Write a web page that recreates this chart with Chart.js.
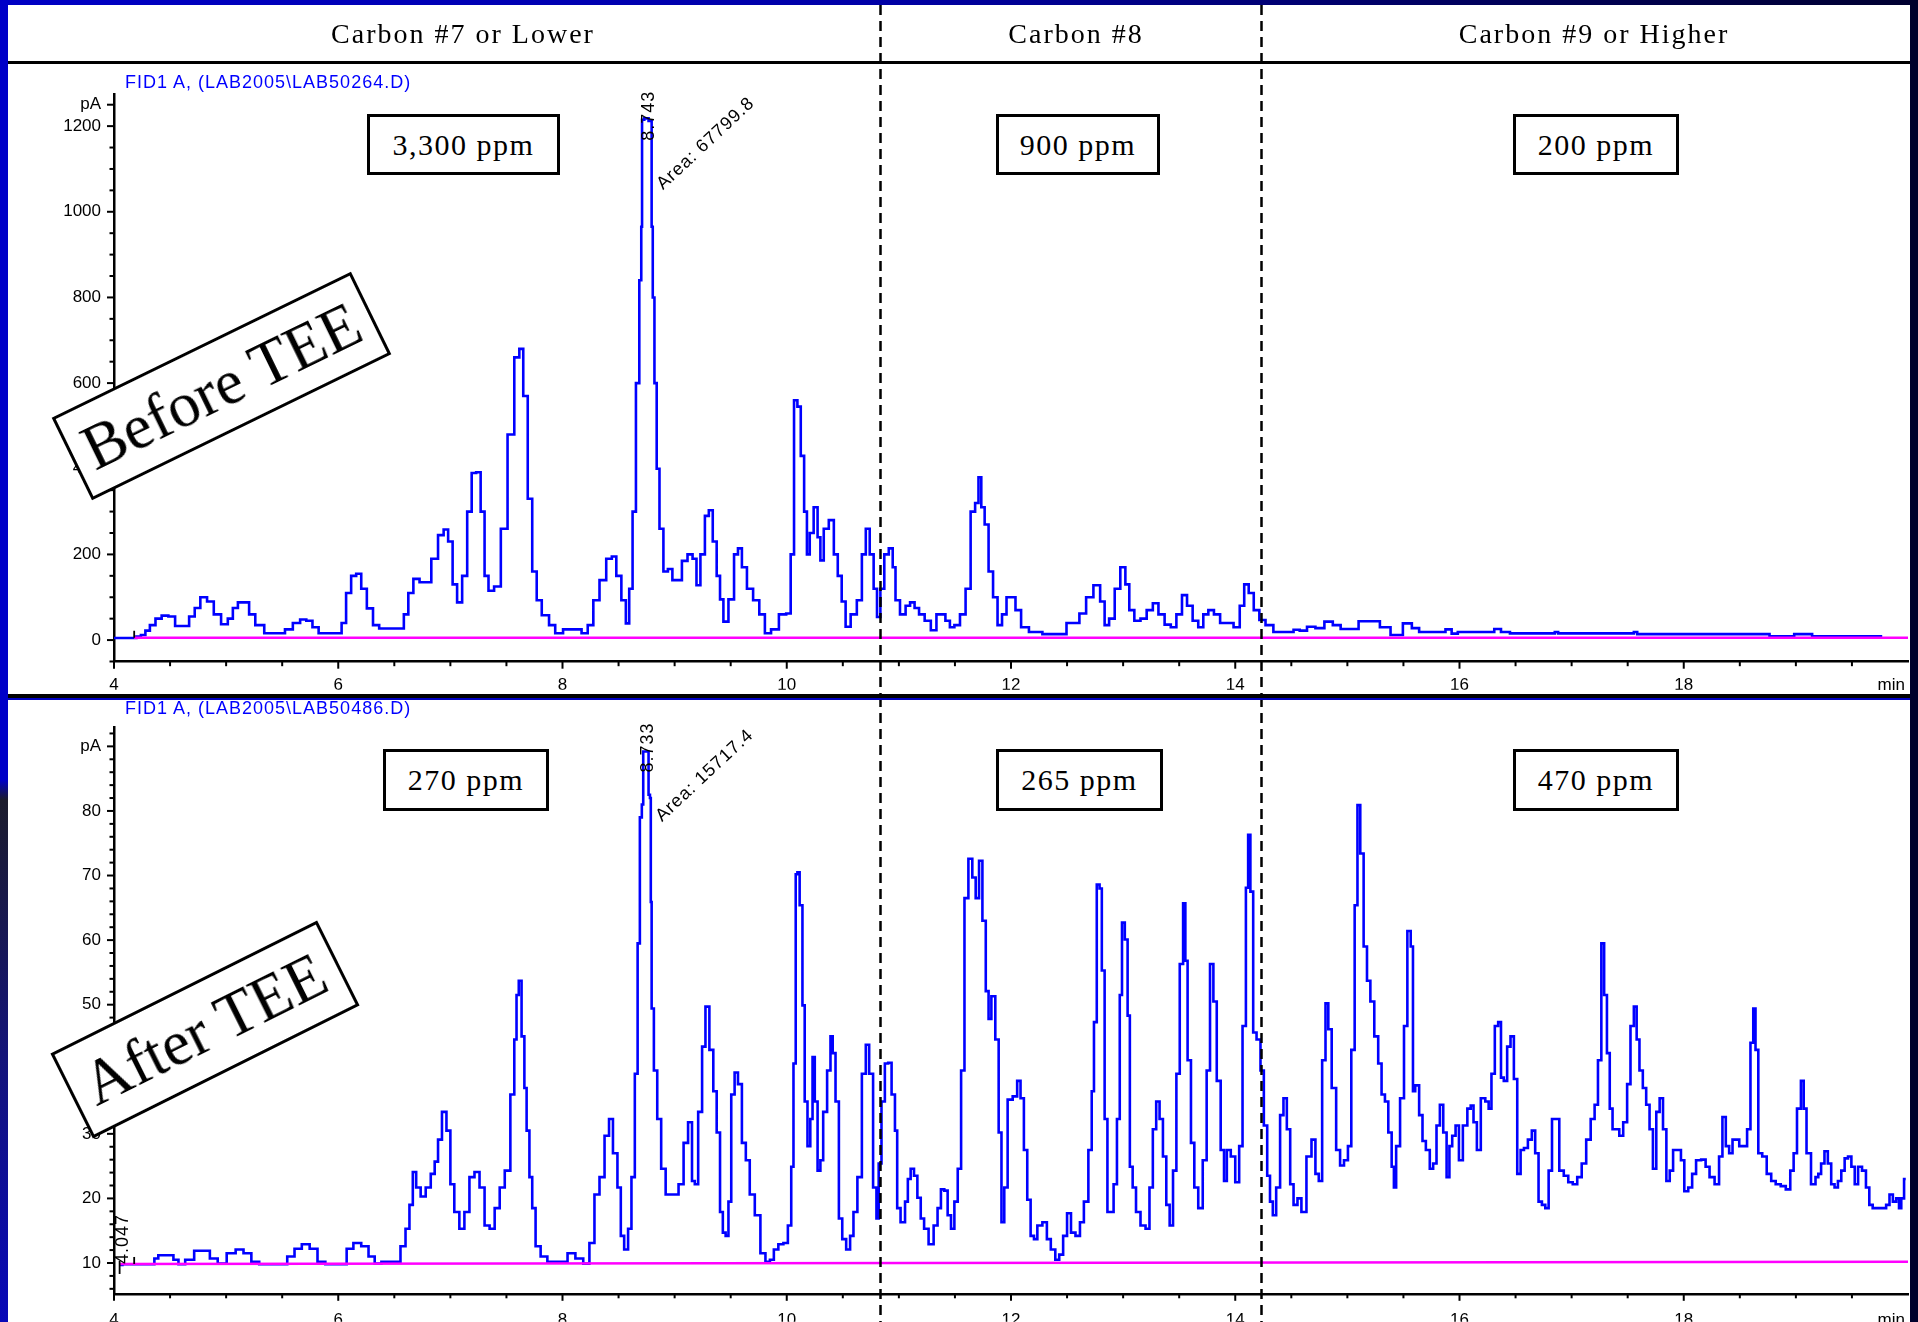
<!DOCTYPE html>
<html>
<head>
<meta charset="utf-8">
<script src="https://cdn.jsdelivr.net/npm/chart.js@4.4.1/dist/chart.umd.min.js"></script>
<style>
html,body{margin:0;padding:0;overflow:hidden;width:1918px;height:1322px;}
body{position:relative;background:#0000c0;}
#panel{position:absolute;left:8px;top:5px;width:1902px;height:1317px;background:#fff;}
canvas{position:absolute;left:0;}
#c1{top:0;}
#c2{top:697px;}
.ov{position:absolute;z-index:5;}
.hdr{position:absolute;z-index:5;top:19.5px;line-height:28px;font-family:'Liberation Serif',serif;font-size:28px;letter-spacing:2px;color:#000;white-space:nowrap;transform:translateX(-50%);}
.fid{position:absolute;z-index:6;left:125px;line-height:18px;font-family:'Liberation Sans',sans-serif;font-size:18px;letter-spacing:1px;color:#0000ff;white-space:nowrap;}
.box{position:absolute;z-index:6;box-sizing:border-box;border:3px solid #000;background:#fff;display:flex;align-items:center;justify-content:center;font-family:'Liberation Serif',serif;font-size:30px;letter-spacing:1.5px;color:#000;white-space:nowrap;}
.rbox{position:absolute;z-index:7;box-sizing:border-box;border:3px solid #000;background:#fff;display:flex;align-items:center;justify-content:center;font-family:'Liberation Serif',serif;font-size:63px;color:#000;white-space:nowrap;}
.strip{position:absolute;z-index:10;}
</style>
</head>
<body>
<div id="panel"></div>
<canvas id="c1" width="1940" height="697"></canvas>
<canvas id="c2" width="1940" height="625"></canvas>
<div id="overlay"></div>
<div class="strip" style="left:0;top:0;width:1918px;height:5px;background:linear-gradient(to right,#0000c4 0%,#0000a8 45%,#000060 75%,#000030 100%);"></div>
<div class="strip" style="left:0;top:0;width:8px;height:1322px;background:linear-gradient(to bottom,#0000c8 0%,#0000c8 59%,#1c1c2c 60.5%,#14147a 80%,#0808b8 100%);"></div>
<div class="strip" style="left:1910px;top:0;width:8px;height:1322px;background:#00002c;"></div>
<script>
// ---------- labels ----------
const headerLabels = ['Carbon #7 or Lower', 'Carbon #8', 'Carbon #9 or Higher'];
const fidLabels = ['FID1 A, (LAB2005\\LAB50264.D)', 'FID1 A, (LAB2005\\LAB50486.D)'];
const topBoxLabels = ['3,300 ppm', '900 ppm', '200 ppm'];
const bottomBoxLabels = ['270 ppm', '265 ppm', '470 ppm'];
const stateLabels = ['Before TEE', 'After TEE'];
const carbonCuts = [10.83, 14.23];

// ---------- axis ticks ----------
const xTickLabels = [4, 6, 8, 10, 12, 14, 16, 18];
const xUnit = 'min';
const topYTickLabels = [0, 200, 400, 600, 800, 1000, 1200];
const bottomYTickLabels = [10, 20, 30, 40, 50, 60, 70, 80];
const yUnit = 'pA';

// ---------- top chromatogram (before TEE) ----------
const topTimes = [
 4.00,4.18,4.22,4.26,4.30,4.34,4.40,4.45,4.52,4.57,
 4.64,4.70,4.74,4.80,4.86,4.92,4.99,5.04,5.08,5.13,
 5.19,5.22,5.30,5.38,5.49,5.56,5.63,5.69,5.74,5.80,
 5.85,6.01,6.05,6.09,6.14,6.18,6.23,6.28,6.34,6.39,
 6.56,6.61,6.64,6.70,6.75,6.80,6.86,6.92,6.96,7.00,
 7.04,7.08,7.13,7.17,7.21,7.25,7.29,7.32,7.36,7.42,
 7.48,7.54,7.60,7.63,7.67,7.71,7.75,7.79,7.84,7.92,
 7.95,8.06,8.14,8.20,8.25,8.30,8.36,8.42,8.46,8.50,
 8.55,8.58,8.61,8.64,8.67,8.70,8.705,8.714,8.745,8.79,
 8.80,8.81,8.83,8.85,8.88,8.92,8.96,9.00,9.04,9.09,
 9.14,9.18,9.21,9.25,9.29,9.32,9.36,9.39,9.42,9.45,
 9.51,9.55,9.58,9.62,9.67,9.73,9.78,9.83,9.89,9.97,
 10.02,10.05,10.08,10.11,10.14,10.17,10.19,10.22,10.26,10.29,
 10.31,10.35,10.40,10.44,10.47,10.51,10.54,10.60,10.65,10.69,
 10.72,10.76,10.79,10.82,10.85,10.89,10.93,10.96,10.98,11.04,
 11.08,11.12,11.16,11.20,11.26,11.31,11.36,11.39,11.44,11.47,
 11.52,11.57,11.62,11.66,11.70,11.72,11.75,11.78,11.82,11.86,
 11.90,11.94,11.98,12.02,12.06,12.12,12.20,12.36,12.47,12.52,
 12.58,12.64,12.70,12.77,12.82,12.85,12.90,12.95,13.00,13.04,
 13.07,13.13,13.18,13.24,13.29,13.34,13.40,13.45,13.50,13.55,
 13.59,13.65,13.69,13.74,13.78,13.84,13.89,13.95,14.02,14.06,
 14.10,14.14,14.19,14.24,14.30,14.38,14.49,14.55,14.60,14.68,
 14.75,14.84,14.90,14.98,15.09,15.11,15.25,15.33,15.44,15.55,
 15.60,15.68,15.85,15.90,15.96,16.01,16.28,16.34,16.40,16.50,
 16.84,16.86,16.90,17.54,17.57,17.60,18.74,18.79,18.96,19.01,
 19.12,19.17,19.77
];
const topValues = [
 5,5,8,12,22,35,50,57,55,33,
 33,55,75,100,90,60,37,50,75,88,
 88,60,35,16,16,25,40,48,45,30,
 16,16,40,110,150,155,120,74,35,27,
 27,60,110,143,135,135,190,245,258,230,
 130,88,150,300,390,392,300,150,115,125,
 260,480,660,680,570,330,160,93,58,35,
 16,25,25,16,35,93,140,190,195,150,
 93,39,120,300,600,840,965,1215,1218,1212,
 965,800,600,400,260,160,166,140,140,185,
 200,190,128,200,290,303,230,150,95,43,
 95,200,214,170,120,93,60,16,25,60,
 62,200,560,545,430,300,200,250,310,240,
 186,260,280,200,150,90,31,60,93,200,
 260,200,120,54,120,200,214,170,93,60,
 80,88,75,60,45,23,60,60,45,30,
 35,60,120,300,320,380,310,270,160,100,
 35,60,100,100,70,30,19,14,14,40,
 40,62,100,128,90,35,50,120,170,130,
 70,45,50,70,86,60,36,30,60,105,
 80,45,30,60,70,60,40,40,30,80,
 130,110,70,47,35,19,19,24,22,31,
 28,43,35,26,26,44,44,30,12,39,
 28,19,19,25,15,19,19,26,19,15.6,
 15.6,19,15.6,15.6,19,14,14,9,9,14,
 14,9,9
];
const topBaseTimes = [4.18, 20];
const topBaseValues = [5.4, 5.4];
const topEventTimes = [4.18];

// ---------- bottom chromatogram (after TEE) ----------
const bottomTimes = [
 4.05,4.10,4.35,4.37,4.42,4.51,4.55,4.60,4.67,4.76,
 4.82,4.89,4.96,5.05,5.12,5.19,5.26,5.33,5.51,5.58,
 5.64,5.71,5.78,5.85,5.92,6.05,6.10,6.17,6.24,6.30,
 6.35,6.42,6.53,6.58,6.62,6.65,6.68,6.71,6.76,6.80,
 6.85,6.87,6.91,6.94,6.99,7.01,7.06,7.10,7.15,7.19,
 7.24,7.28,7.33,7.37,7.42,7.46,7.51,7.56,7.58,7.60,
 7.62,7.65,7.67,7.69,7.72,7.74,7.78,7.83,7.90,8.01,
 8.08,8.15,8.22,8.26,8.31,8.35,8.40,8.43,8.47,8.51,
 8.53,8.57,8.60,8.63,8.66,8.68,8.70,8.715,8.725,8.76,
 8.775,8.785,8.79,8.80,8.83,8.86,8.90,8.94,9.01,9.06,
 9.10,9.14,9.17,9.19,9.23,9.26,9.29,9.33,9.36,9.39,
 9.42,9.44,9.47,9.49,9.52,9.55,9.58,9.62,9.65,9.69,
 9.74,9.79,9.83,9.87,9.90,9.95,9.99,10.03,10.05,10.07,
 10.09,10.10,10.13,10.15,10.17,10.20,10.22,10.24,10.26,10.29,
 10.31,10.34,10.38,10.40,10.42,10.45,10.48,10.51,10.55,10.58,
 10.61,10.65,10.69,10.72,10.75,10.79,10.81,10.83,10.86,10.89,
 10.92,10.95,10.98,10.99,11.04,11.07,11.09,11.12,11.15,11.18,
 11.21,11.24,11.29,11.33,11.36,11.39,11.42,11.45,11.48,11.51,
 11.54,11.57,11.60,11.64,11.67,11.70,11.73,11.76,11.79,11.81,
 11.84,11.88,11.90,11.93,11.95,11.99,12.04,12.07,12.10,12.13,
 12.16,12.19,12.22,12.25,12.31,12.33,12.38,12.41,12.45,12.48,
 12.52,12.55,12.60,12.63,12.67,12.71,12.73,12.75,12.78,12.80,
 12.82,12.85,12.87,12.90,12.93,12.96,12.98,13.00,13.03,13.05,
 13.07,13.10,13.13,13.18,13.22,13.25,13.28,13.31,13.34,13.37,
 13.40,13.43,13.46,13.49,13.52,13.55,13.56,13.59,13.62,13.65,
 13.69,13.73,13.76,13.79,13.82,13.85,13.89,13.91,13.94,13.98,
 14.02,14.05,14.08,14.11,14.12,14.15,14.17,14.21,14.24,14.27,
 14.30,14.32,14.35,14.38,14.42,14.44,14.48,14.50,14.54,14.57,
 14.61,14.66,14.70,14.73,14.76,14.79,14.82,14.84,14.88,14.92,
 14.95,14.99,15.02,15.05,15.08,15.10,15.13,15.16,15.19,15.22,
 15.26,15.29,15.32,15.35,15.38,15.41,15.42,15.45,15.49,15.52,
 15.55,15.58,15.59,15.62,15.66,15.68,15.72,15.75,15.78,15.81,
 15.84,15.87,15.90,15.92,15.95,15.98,16.01,16.05,16.09,16.11,
 16.14,16.17,16.21,16.25,16.27,16.30,16.33,16.36,16.38,16.41,
 16.44,16.47,16.50,16.53,16.56,16.59,16.63,16.66,16.69,16.72,
 16.75,16.78,16.81,16.84,16.87,16.91,16.95,16.99,17.03,17.07,
 17.11,17.15,17.19,17.22,17.25,17.28,17.30,17.33,17.35,17.38,
 17.41,17.44,17.48,17.51,17.54,17.57,17.59,17.62,17.65,17.68,
 17.71,17.74,17.77,17.80,17.83,17.86,17.89,17.92,17.96,17.99,
 18.02,18.06,18.09,18.13,18.18,18.21,18.25,18.30,18.33,18.36,
 18.39,18.42,18.45,18.48,18.51,18.55,18.58,18.61,18.63,18.65,
 18.68,18.72,18.76,18.80,18.84,18.89,18.93,18.97,18.99,19.03,
 19.06,19.08,19.11,19.16,19.19,19.21,19.24,19.27,19.30,19.33,
 19.36,19.39,19.42,19.45,19.48,19.51,19.54,19.57,19.61,19.64,
 19.67,19.70,19.79,19.82,19.85,19.88,19.91,19.93,19.95,19.98
];
const bottomValues = [
 9.7,9.8,9.8,10.7,11.2,11.2,10.5,9.8,10.5,11.9,
 11.9,10.7,9.9,11.5,12.1,11.5,10.2,9.8,9.8,11.0,
 12.2,12.9,12.2,10.2,9.8,9.8,12.2,13.1,12.6,11.0,
 9.9,10.2,10.2,12.6,15.3,19.0,24.1,21.7,20.3,21.7,
 23.8,25.7,29.1,33.4,30.5,22.2,17.9,15.3,17.9,23.3,
 24.1,21.7,15.8,15.3,18.5,21.7,24.3,36.1,44.6,51.5,
 53.7,45.1,37.1,30.5,23.3,18.5,12.6,11.0,10.2,10.2,
 11.5,10.7,9.9,13.1,20.6,23.3,29.7,32.3,27.0,21.7,
 14.2,12.1,15.3,23.3,39.3,59.5,79.0,81.0,89.2,89.2,
 82.5,82.0,65.9,49.4,39.8,32.3,24.6,20.6,20.6,22.2,
 28.6,31.8,22.7,22.2,33.4,43.5,49.7,43.0,36.6,30.2,
 17.9,14.7,14.2,19.5,36.1,39.5,37.7,28.6,25.9,20.6,
 17.4,11.5,10.2,10.5,12.1,12.9,13.1,15.8,24.9,40.9,
 70.2,70.5,65.4,49.9,35.0,28.1,32.3,41.9,35.0,24.3,
 25.9,33.4,39.8,45.1,42.5,35.0,16.9,13.7,12.1,14.2,
 17.9,23.3,39.3,43.8,39.3,21.7,16.9,25.4,35.0,40.9,
 41.0,36.1,30.5,18.5,16.3,19.5,23.0,24.6,23.5,20.1,
 16.9,15.3,12.9,15.8,18.5,21.4,21.2,17.4,15.3,19.5,
 24.6,39.8,66.5,72.6,69.7,66.5,72.3,63.0,52.1,47.8,
 51.3,44.6,30.2,16.3,21.7,35.3,35.8,38.2,35.5,27.5,
 19.8,14.2,13.7,15.8,16.3,13.7,12.1,10.5,11.3,14.2,
 17.7,14.7,14.2,16.3,19.5,27.5,36.6,47.3,68.6,68.0,
 55.3,32.3,17.9,17.9,22.2,32.3,51.5,62.7,60.1,48.3,
 24.9,21.7,17.9,15.8,15.3,21.7,30.7,35.0,32.3,26.5,
 19.0,15.8,24.3,39.3,56.3,65.7,56.8,41.4,28.6,21.7,
 18.5,25.9,39.8,56.3,50.5,38.2,27.5,22.7,27.5,26.5,
 22.5,28.1,46.7,68.1,76.3,67.5,45.7,44.6,39.8,31.3,
 23.5,19.5,17.4,21.7,32.9,35.5,30.7,22.2,19.0,20.0,
 17.9,26.5,29.1,23.8,22.7,41.4,50.2,46.2,37.1,27.5,
 25.1,25.9,28.1,43.0,65.4,80.9,73.4,59.0,53.7,50.5,
 45.1,40.9,36.1,35.0,30.2,24.9,21.7,28.1,35.5,46.7,
 61.4,59.0,36.6,37.5,32.9,28.9,27.5,24.6,25.4,31.3,
 34.5,30.2,23.3,28.1,29.7,31.3,25.9,31.3,33.9,34.4,
 31.8,27.5,35.5,35.0,33.9,39.3,46.7,47.3,38.7,38.2,
 43.5,45.1,38.5,23.8,27.5,27.8,29.1,30.5,27.0,19.5,
 19.0,18.5,24.3,32.3,32.3,24.3,23.5,22.5,22.2,23.3,
 25.4,29.1,32.3,34.5,41.4,59.5,51.5,42.5,33.9,30.7,
 30.7,29.7,31.8,37.7,46.7,49.7,44.6,39.8,37.1,34.5,
 30.7,24.6,33.4,35.5,30.7,22.7,24.3,27.5,27.5,25.9,
 21.1,21.7,23.8,25.9,26.0,24.9,23.3,22.2,26.5,32.6,
 28.1,27.0,29.1,29.1,28.1,28.1,30.7,44.1,49.4,43.0,
 27.0,26.5,23.8,22.7,22.2,21.9,21.4,24.3,27.0,33.9,
 38.2,33.9,27.0,22.2,23.3,23.8,25.4,27.3,25.4,22.2,
 21.7,22.7,24.3,26.2,26.5,24.9,22.2,24.9,24.3,21.7,
 19.0,18.5,18.5,19.0,20.6,19.5,20.0,18.5,20.0,23.0
];
const bottomBaseTimes = [4.05, 20];
const bottomBaseValues = [9.85, 10.2];
const bottomEventTimes = [4.05, 4.18];

// ---------- peak annotations ----------
const topPeak = { time: 8.743, value: 1215, rt: '8.743', area: 'Area: 67799.8' };
const bottomPeak = { time: 8.733, value: 89.2, rt: '8.733', area: 'Area: 15717.4' };
const bottomStartLabel = { time: 4.047, rt: '4.047' };

// ---------- helpers ----------
function pts(ts, vs) { return ts.map((t, i) => ({ x: t, y: vs[i] })); }
const TICK_FONT = 17;

const annotPlugin = {
  id: 'annot',
  afterDatasetsDraw(chart, args, o) {
    const ctx = chart.ctx, xs = chart.scales.x, ys = chart.scales.y, ca = chart.chartArea;
    ctx.save();
    ctx.strokeStyle = '#000';
    ctx.lineWidth = 2;
    xs.ticks.forEach(t => {
      const px = xs.getPixelForValue(t.value);
      const len = xTickLabels.includes(t.value) ? 7 : 4.5;
      ctx.beginPath(); ctx.moveTo(px, ca.bottom); ctx.lineTo(px, ca.bottom + len); ctx.stroke();
    });
    ys.ticks.forEach(t => {
      const py = ys.getPixelForValue(t.value);
      const len = (o.yMajor.includes(t.value) || t.value === o.unitAt) ? 7 : 4.5;
      ctx.beginPath(); ctx.moveTo(ca.left, py); ctx.lineTo(ca.left - len, py); ctx.stroke();
    });
    ctx.lineWidth = 1.8;
    o.events.forEach((t, i) => {
      const px = xs.getPixelForValue(t);
      const py = ys.getPixelForValue(o.baseAt);
      ctx.beginPath();
      if (o.downFirst && i === 0) { ctx.moveTo(px, py - 3); ctx.lineTo(px, py + 10); }
      else { ctx.moveTo(px, py); ctx.lineTo(px, py - 7); }
      ctx.stroke();
    });
    ctx.setLineDash([10, 6]);
    ctx.lineWidth = 2.5;
    carbonCuts.forEach(t => {
      const px = Math.round(xs.getPixelForValue(t)) + 0.5;
      ctx.beginPath(); ctx.moveTo(px, o.dashTop); ctx.lineTo(px, chart.height); ctx.stroke();
    });
    ctx.setLineDash([]);
    ctx.fillStyle = '#000';
    ctx.font = '18px "Liberation Sans", sans-serif';
    try { ctx.letterSpacing = '1px'; } catch (e) {}
    ctx.textAlign = 'center';
    ctx.textBaseline = 'middle';
    const p = o.peak;
    const ppx = xs.getPixelForValue(p.time), ppy = ys.getPixelForValue(p.value);
    ctx.save(); ctx.translate(ppx + 3, ppy - 4); ctx.rotate(-Math.PI / 2); ctx.fillText(p.rt, 0, 0); ctx.restore();
    ctx.save(); ctx.translate(ppx + 60, ppy + 24); ctx.rotate(-43 * Math.PI / 180); ctx.fillText(p.area, 0, 0); ctx.restore();
    if (o.start) {
      const spx = xs.getPixelForValue(o.start.time), spy = ys.getPixelForValue(o.baseAt);
      ctx.save(); ctx.translate(spx + 4, spy - 25); ctx.rotate(-Math.PI / 2); ctx.fillText(o.start.rt, 0, 0); ctx.restore();
    }
    ctx.font = TICK_FONT + 'px "Liberation Sans", sans-serif';
    try { ctx.letterSpacing = '0px'; } catch (e) {}
    ctx.textAlign = 'right';
    ctx.fillText(xUnit, ca.right - 3, ca.bottom + 7 + o.xPad + TICK_FONT * 0.6);
    ctx.restore();
  }
};

function makeChart(id, cfg) {
  return new Chart(document.getElementById(id), {
    type: 'line',
    data: {
      datasets: [
        { data: pts(cfg.baseT, cfg.baseV), borderColor: '#ff00ff', borderWidth: 2.5, pointRadius: 0, tension: 0 },
        { data: pts(cfg.t, cfg.v), borderColor: '#0000ff', borderWidth: 2.6, pointRadius: 0, tension: 0, stepped: 'middle' }
      ]
    },
    options: {
      responsive: false,
      animation: false,
      events: [],
      layout: { padding: { left: 54, right: 32, top: cfg.padTop, bottom: cfg.padBottom } },
      plugins: {
        legend: { display: false },
        tooltip: { enabled: false },
        annot: cfg.annot
      },
      scales: {
        x: {
          type: 'linear', min: 4, max: 20,
          afterBuildTicks: s => { const a = []; for (let i = 0; i <= 31; i++) a.push({ value: 4 + i * 0.5 }); s.ticks = a; },
          afterFit: s => { s.height = 28; },
          ticks: {
            autoSkip: false, maxRotation: 0, padding: cfg.annot.xPad, color: '#000',
            font: { family: 'Liberation Sans', size: TICK_FONT },
            callback: v => xTickLabels.includes(v) ? String(v) : ''
          },
          grid: { display: true, drawOnChartArea: false, drawTicks: true, tickLength: 7, tickColor: 'rgba(0,0,0,0)' },
          border: { display: true, color: '#000', width: 2.5 }
        },
        y: {
          type: 'linear', min: cfg.ymin, max: cfg.ymax,
          afterBuildTicks: s => { s.ticks = cfg.yTicks.map(v => ({ value: v })); },
          afterFit: s => { s.width = 60; },
          ticks: {
            autoSkip: false, padding: 6, color: '#000',
            font: { family: 'Liberation Sans', size: TICK_FONT },
            callback: v => v === cfg.annot.unitAt ? yUnit : (cfg.annot.yMajor.includes(v) ? String(v) : '')
          },
          grid: { display: true, drawOnChartArea: false, drawTicks: true, tickLength: 7, tickColor: 'rgba(0,0,0,0)' },
          border: { display: true, color: '#000', width: 2.5 }
        }
      }
    },
    plugins: [annotPlugin]
  });
}

const topYTicks = []; for (let v = -50; v <= 1250; v += 50) topYTicks.push(v);
const bottomYTicks = []; for (let v = 6; v <= 92; v += 2) bottomYTicks.push(v);

makeChart('c1', {
  t: topTimes, v: topValues, baseT: topBaseTimes, baseV: topBaseValues,
  ymin: -50.5, ymax: 1275, yTicks: topYTicks, padTop: 94, padBottom: 7.3,
  annot: { yMajor: topYTickLabels, unitAt: 1250, events: topEventTimes, baseAt: 5.4, downFirst: false,
           dashTop: 5, peak: topPeak, start: null, xPad: 6 }
});
makeChart('c2', {
  t: bottomTimes, v: bottomValues, baseT: bottomBaseTimes, baseV: bottomBaseValues,
  ymin: 5.23, ymax: 93.0, yTicks: bottomYTicks, padTop: 30, padBottom: 0.2,
  annot: { yMajor: bottomYTickLabels, unitAt: 90, events: bottomEventTimes, baseAt: 9.85, downFirst: true,
           dashTop: 0, peak: bottomPeak, start: bottomStartLabel, xPad: 9 }
});

// ---------- overlay text / boxes ----------
const ov = document.getElementById('overlay');
function add(cls, style, text) {
  const d = document.createElement('div');
  d.className = cls; d.setAttribute('style', style); if (text !== undefined) d.textContent = text;
  ov.appendChild(d); return d;
}
const headerX = [463, 1076, 1594];
headerLabels.forEach((h, i) => add('hdr', 'left:' + headerX[i] + 'px;', h));
add('ov', 'left:8px;top:60.5px;width:1902px;height:3px;background:#000;');
add('ov', 'left:8px;top:694px;width:1902px;height:4px;background:#000;');
add('ov', 'left:8px;top:698px;width:1902px;height:1.5px;background:#0000c0;');
add('fid', 'top:73px;', fidLabels[0]);
add('fid', 'top:699px;', fidLabels[1]);
const topBoxGeom = [[367, 193], [996, 164], [1513, 166]];
const botBoxGeom = [[383, 166], [996, 167], [1513, 166]];
topBoxLabels.forEach((b, i) => add('box', 'left:' + topBoxGeom[i][0] + 'px;top:114px;width:' + topBoxGeom[i][1] + 'px;height:61px;', b));
bottomBoxLabels.forEach((b, i) => add('box', 'left:' + botBoxGeom[i][0] + 'px;top:749px;width:' + botBoxGeom[i][1] + 'px;height:62px;', b));
const stateGeom = [[221, 386, 333, 92, -26], [205, 1029, 298, 95, -26.5]];
stateLabels.forEach((s, i) => {
  const g = stateGeom[i];
  add('rbox', 'left:' + (g[0] - g[2] / 2) + 'px;top:' + (g[1] - g[3] / 2) + 'px;width:' + g[2] + 'px;height:' + g[3] + 'px;transform:rotate(' + g[4] + 'deg);', s);
});
</script>
</body>
</html>
